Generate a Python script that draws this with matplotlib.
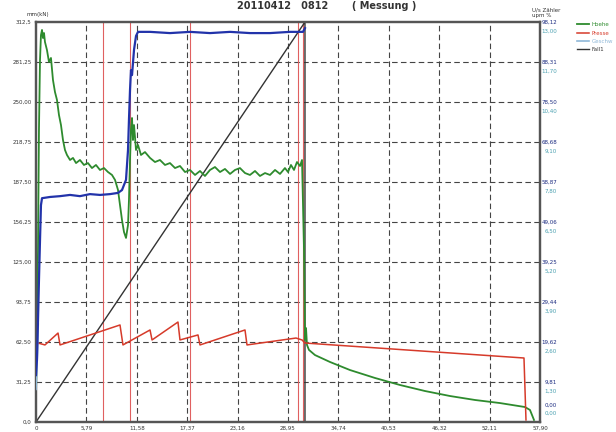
import matplotlib
matplotlib.use("Agg")
import matplotlib.pyplot as plt
import matplotlib.transforms as mtransforms

# ---------------- data ----------------
x_ticks = [0, 5.79, 11.58, 17.37, 23.16, 28.95, 34.74, 40.53, 46.32, 52.11, 57.90]
x_tick_labels = ["0", "5,79", "11,58", "17,37", "23,16", "28,95", "34,74",
                 "40,53", "46,32", "52,11", "57,90"]
left_ticks = [0, 31.25, 62.5, 93.75, 125.0, 156.25, 187.5, 218.75, 250.0, 281.25, 312.5]
left_tick_labels = ["0,0", "31,25", "62,50", "93,75", "125,00", "156,25",
                    "187,50", "218,75", "250,00", "281,25", "312,5"]
right_a_labels = ["0,00", "9,81", "19,62", "29,44", "39,25", "49,06",
                  "58,87", "68,68", "78,50", "88,31", "98,12"]
right_b_labels = ["0,00", "1,30", "2,60", "3,90", "5,20", "6,50",
                  "7,80", "9,10", "10,40", "11,70", "13,00"]

green_x = [0, 0.11, 0.23, 0.34, 0.46, 0.57, 0.69, 0.80, 0.92, 1.03, 1.26, 1.49, 1.72,
           1.95, 2.18, 2.41, 2.64, 2.87, 3.10, 3.33, 3.56, 3.91, 4.25, 4.60, 5.05,
           5.51, 5.97, 6.43, 6.89, 7.35, 7.81, 8.27, 8.73, 9.08, 9.42, 9.65, 9.88,
           10.11, 10.34, 10.57, 10.68, 10.80, 10.91, 11.03, 11.14, 11.26, 11.49,
           11.72, 12.06, 12.52, 13.10, 13.67, 14.24, 14.82, 15.39, 15.97, 16.54,
           17.12, 17.69, 18.27, 18.84, 19.41, 19.99, 20.56, 21.14, 21.71, 22.29,
           22.86, 23.43, 24.01, 24.58, 25.16, 25.73, 26.31, 26.88, 27.46, 28.03,
           28.60, 28.95, 29.29, 29.64, 29.98, 30.33, 30.56, 30.79, 30.90, 31.02,
           31.13, 31.36, 32.05, 33.77, 36.07, 38.94, 41.82, 44.69, 47.56, 50.43,
           53.30, 56.17, 56.75, 57.21]
green_y = [21.1, 71.9, 134.4, 228.1, 282.8, 302.3, 306.3, 300.0, 303.9, 296.9, 290.6,
           281.3, 284.4, 267.2, 257.8, 251.6, 239.8, 232.0, 220.3, 212.5, 208.6,
           204.7, 206.3, 202.3, 204.7, 200.8, 202.3, 198.4, 200.8, 196.9, 198.4,
           195.3, 193.0, 189.1, 181.3, 169.5, 157.8, 148.4, 143.8, 153.9, 173.4,
           204.7, 228.1, 237.5, 220.3, 232.0, 212.5, 216.4, 208.6, 210.9, 206.3,
           203.1, 204.7, 200.8, 202.3, 198.4, 200.0, 195.3, 196.9, 193.0, 196.1,
           192.2, 196.9, 199.2, 195.3, 197.7, 193.8, 196.9, 198.4, 194.5, 193.0,
           196.1, 192.2, 194.5, 193.0, 196.9, 193.8, 198.4, 195.3, 200.8, 196.9,
           203.1, 200.0, 204.7, 134.4, 64.1, 73.4, 60.2, 56.3, 52.3, 46.9, 40.6,
           34.4, 28.9, 24.2, 20.3, 17.2, 14.8, 11.7, 9.4, 1.6]

red_x = [0, 0.23, 1.03, 2.53, 2.76, 9.65, 9.99, 13.10, 13.33, 16.31, 16.54, 18.61,
         18.84, 24.01, 24.24, 29.87, 30.56, 30.90, 56.06, 56.29]
red_y = [57.8, 61.7, 60.2, 69.5, 60.2, 75.8, 60.2, 71.9, 64.1, 78.1, 64.1, 68.0,
         60.2, 71.9, 60.2, 65.6, 64.1, 61.7, 50.0, 1.6]

blue_x = [0, 0.11, 0.23, 0.34, 0.46, 0.57, 0.69, 1.61, 2.76, 3.91, 5.05, 6.20, 7.35,
          8.50, 9.42, 9.88, 10.34, 10.57, 10.68, 10.80, 10.91, 11.03, 11.26, 11.49,
          11.72, 13.10, 15.39, 17.69, 19.99, 22.29, 24.58, 26.88, 29.18, 30.67, 30.90]
blue_y = [11.5, 15.2, 25.0, 34.8, 44.6, 53.2, 54.9, 55.2, 55.4, 55.7, 55.4, 55.9,
          55.7, 55.9, 56.2, 56.9, 59.4, 66.7, 74.1, 81.4, 86.3, 85.1, 91.3, 94.7,
          95.7, 95.7, 95.4, 95.7, 95.4, 95.7, 95.4, 95.4, 95.7, 95.7, 96.6]

light_x = [0, 0.08, 0.17, 0.26]
light_y = [8.0, 12.0, 17.0, 24.0]

fall_x = [0, 30.90, 30.90]
fall_y = [0, 312.5, 0]

marker_x = [7.70, 10.80, 17.69, 30.10, 30.67]

series_names = ["Hoehe", "Presse", "Geschw", "Fall1"]

# ---------------- figure ----------------
fig = plt.figure(figsize=(6.16, 4.32), dpi=100)
fig.patch.set_facecolor("white")
ax = fig.add_axes([36 / 616, 10 / 432, 504 / 616, 400 / 432])
ax2 = ax.twinx()

ax.set_xlim(x_ticks[0], x_ticks[-1])
ax.set_ylim(left_ticks[0], left_ticks[-1])
ax2.set_ylim(0, 98.12)

grid_kw = dict(color="#444444", linestyle=(0, (5, 3)), linewidth=0.8, zorder=1)
for xv in x_ticks[1:-1]:
    ax.axvline(xv, **grid_kw)
for yv in left_ticks[1:-1]:
    ax.axhline(yv, **grid_kw)

for mx in marker_x:
    ax.axvline(mx, color="#e06060", linewidth=0.8, zorder=2)

l_green, = ax.plot(green_x, green_y, color="#2e8b2e", linewidth=1.3, zorder=4)
l_red, = ax.plot(red_x, red_y, color="#d63a2a", linewidth=1.1, zorder=4)
l_light, = ax2.plot(light_x, light_y, color="#8fb8d8", linewidth=1.2, zorder=4)
l_blue, = ax2.plot(blue_x, blue_y, color="#2233aa", linewidth=1.6, zorder=4)
l_fall, = ax.plot(fall_x, fall_y, color="#333333", linewidth=1.0, zorder=3)

for a in (ax, ax2):
    for s in a.spines.values():
        s.set_color("#555555")
        s.set_linewidth(1.6)
    a.tick_params(length=0)

ax.set_xticks(x_ticks)
ax.set_xticklabels(x_tick_labels, fontsize=4, color="#333333")
ax.tick_params(axis="x", pad=3)
ax.set_yticks(left_ticks)
ax.set_yticklabels(left_tick_labels, fontsize=4, color="#333333")
ax.tick_params(axis="y", pad=3)
ax2.set_yticks([])

trans = mtransforms.blended_transform_factory(ax.transAxes, ax.transData)
xr = (557 - 36) / 504
for i, (yv, la, lb) in enumerate(zip(left_ticks, right_a_labels, right_b_labels)):
    ya, yb = yv, yv - 7
    if i == 0:
        ya, yb = yv + 13, yv + 7
    ax.text(xr, ya, la, transform=trans, fontsize=4, color="#1a2a80",
            ha="right", va="center")
    ax.text(xr, yb, lb, transform=trans, fontsize=4, color="#4aa0b0",
            ha="right", va="center")

fig.text(38 / 616, 1 - 16 / 432, "mm(kN)", fontsize=4, color="#333333", ha="center")
fig.text(532 / 616, 1 - 11 / 432, "U/s Zähler", fontsize=4, color="#333333", ha="left")
fig.text(532 / 616, 1 - 17 / 432, "upm %", fontsize=4, color="#333333", ha="left")
fig.text(327 / 616, 1 - 1 / 432, "20110412   0812       ( Messung )", fontsize=7,
         color="#333333", ha="center", va="top", fontweight="bold")

leg = fig.legend([l_green, l_red, l_light, l_fall], series_names,
                 loc="upper left", bbox_to_anchor=(575 / 616, 1 - 20 / 432),
                 fontsize=4, frameon=False, handlelength=2.2, labelspacing=0.6,
                 handletextpad=0.4, borderaxespad=0)
for txt, col in zip(leg.get_texts(), ["#2e8b2e", "#d63a2a", "#8fb8d8", "#333333"]):
    txt.set_color(col)

fig.savefig("out.png", dpi=100, facecolor="white")
